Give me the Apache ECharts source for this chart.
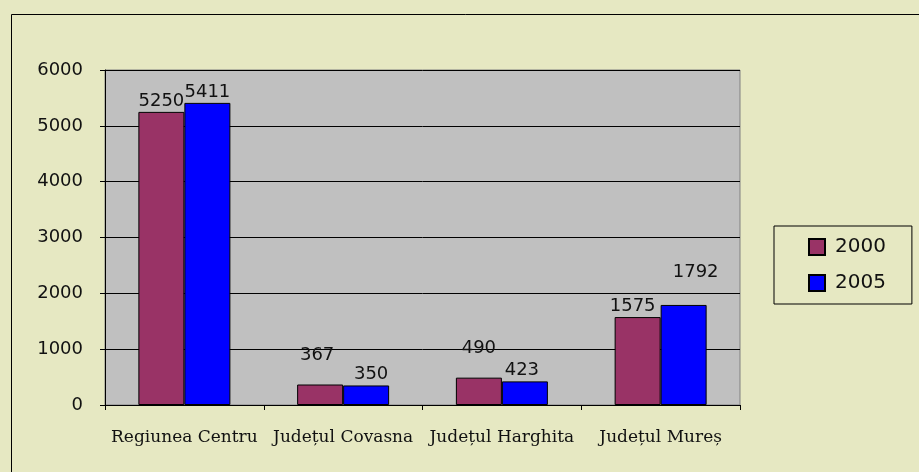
<!DOCTYPE html>
<html style="height: 100%">
<head>
<meta charset="utf-8">
<script src="https://cdn.jsdelivr.net/npm/echarts@6/dist/echarts.min.js"></script>
</head>
<body style="height: 100%; margin: 0">
<div id="container" style="width: 919px; height: 472px"></div>
<script type="text/javascript">
var categories = ['Regiunea Centru', 'Județul Covasna', 'Județul Harghita', 'Județul Mureș'];
var seriesNames = ['2000', '2005'];
var values2000 = [5250, 367, 490, 1575];
var values2005 = [5411, 350, 423, 1792];

// label nudges so they sit like the original
var offsets2000 = [[0, 0], [-3, -18], [0, -18], [-5, 0]];
var offsets2005 = [[0, 0], [5, 0], [-3, 0], [12, -22]];

function withOffsets(vals, offs) {
    return vals.map(function (v, i) {
        return { value: v, label: { offset: offs[i] } };
    });
}

var dom = document.getElementById('container');
var myChart = echarts.init(dom);

var labelStyle = {
    show: true,
    position: 'top',
    distance: 2,
    color: '#111',
    fontFamily: 'DejaVu Sans',
    fontSize: 18
};

var option = {
    backgroundColor: '#E6E8C2',
    animation: false,
    graphic: [{
        type: 'rect',
        shape: { x: 11.5, y: 14.5, width: 920, height: 470 },
        style: { fill: 'none', stroke: '#000', lineWidth: 1 },
        silent: true
    }],
    grid: {
        left: 105,
        right: 179,
        top: 70,
        bottom: 67,
        show: true,
        backgroundColor: '#C0C0C0',
        borderColor: '#808080',
        borderWidth: 1
    },
    legend: {
        left: 774,
        top: 226,
        orient: 'vertical',
        data: seriesNames,
        icon: 'rect',
        itemWidth: 16,
        itemHeight: 16,
        itemGap: 16,
        padding: [11, 26, 11, 34],
        borderColor: '#000',
        borderWidth: 1,
        textStyle: {
            color: '#111',
            fontFamily: 'DejaVu Sans',
            fontSize: 20,
            padding: [0, 0, 0, 5]
        }
    },
    xAxis: {
        type: 'category',
        data: categories,
        axisLine: { lineStyle: { color: '#000', width: 1 } },
        axisTick: { show: true, length: 5, lineStyle: { color: '#000' } },
        axisLabel: {
            margin: 24,
            color: '#111',
            fontFamily: 'DejaVu Serif',
            fontSize: 17,
            interval: 0
        }
    },
    yAxis: {
        type: 'value',
        min: 0,
        max: 6000,
        interval: 1000,
        axisLine: { show: true, lineStyle: { color: '#000', width: 1 } },
        axisTick: { show: true, length: 5, lineStyle: { color: '#000' } },
        splitLine: { lineStyle: { color: '#000', width: 1 } },
        axisLabel: {
            margin: 22,
            color: '#111',
            fontFamily: 'DejaVu Sans',
            fontSize: 18,
            formatter: function (v) { return String(v); }
        }
    },
    series: [
        {
            name: seriesNames[0],
            type: 'bar',
            barWidth: 46,
            barGap: '0%',
            itemStyle: { color: '#993366', borderColor: '#000', borderWidth: 1 },
            label: labelStyle,
            data: withOffsets(values2000, offsets2000)
        },
        {
            name: seriesNames[1],
            type: 'bar',
            barWidth: 46,
            barGap: '0%',
            itemStyle: { color: '#0000FF', borderColor: '#000', borderWidth: 1 },
            label: labelStyle,
            data: withOffsets(values2005, offsets2005)
        }
    ]
};
myChart.setOption(option, true);
</script>
</body>
</html>
